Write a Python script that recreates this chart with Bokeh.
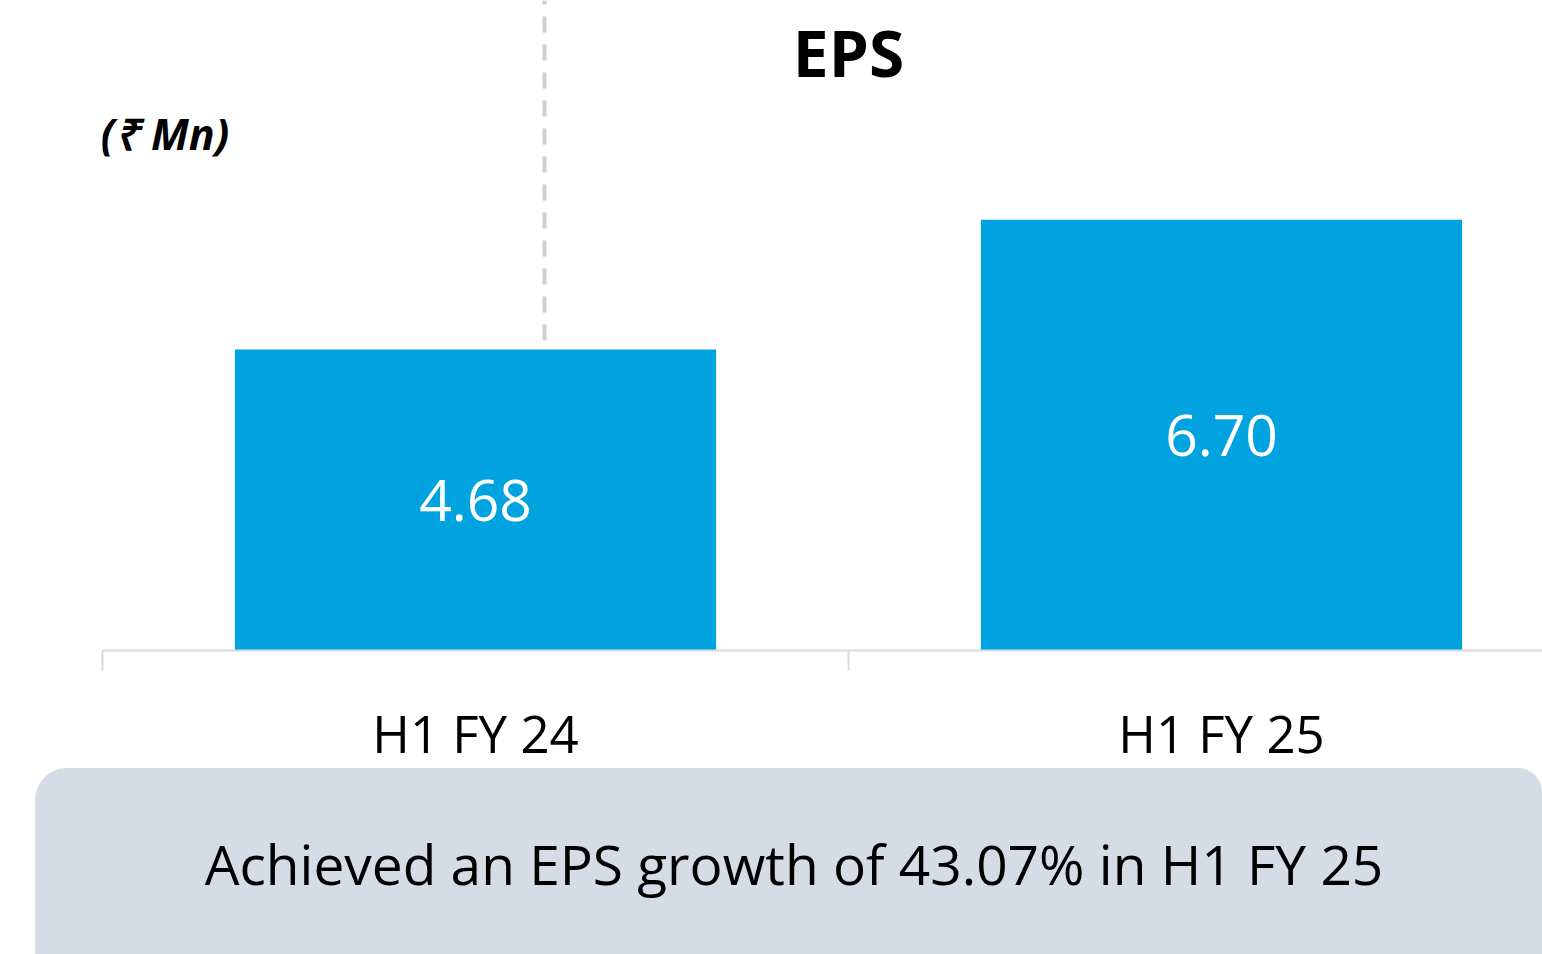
from bokeh.plotting import figure
from bokeh.models import Range1d, LinearAxis, FixedTicker, Label, Div, ColumnDataSource
from bokeh.layouts import column
from bokeh.embed import file_html
from bokeh.resources import INLINE

# ---- data ----
categories = ["H1 FY 24", "H1 FY 25"]
eps_values = [4.68, 6.70]
value_labels = ["4.68", "6.70"]
title_text = "EPS"
unit_text = "(₹ Mn)"
note_text = "Achieved an EPS growth of 43.07% in H1 FY 25"

FONT = "Open Sans"
BAR_COLOR = "#00a3e0"
GRID_GREY = "#d9d9d9"

centers = [i + 0.5 for i in range(len(categories))]
bounds = [float(i) for i in range(len(categories) + 1)]

src = ColumnDataSource(dict(
    x=centers,
    top=eps_values,
    mid=[v / 2 for v in eps_values],
    lab=value_labels,
))

FIG_H = 800
p = figure(width=1542, height=FIG_H, output_backend="svg", toolbar_location=None,
           x_range=Range1d(0, 1440 / 746), y_range=Range1d(0, 650 / 64.3),
           min_border_left=102, min_border_right=0, min_border_top=0,
           min_border_bottom=FIG_H - 650,
           x_axis_type=None, y_axis_type=None)
p.outline_line_color = None
p.xgrid.visible = False
p.ygrid.visible = False
p.background_fill_color = "white"
p.border_fill_color = "white"

# separator dashed line
p.segment(x0=[0.5925], y0=[4.82], x1=[0.5925], y1=[10.5],
          line_color="#d0d0d0", line_width=4, line_dash="16 12")

p.vbar(x="x", top="top", bottom=0, width=0.645, source=src,
       fill_color=BAR_COLOR, line_color=None)

p.text(x="x", y="mid", text="lab", source=src, text_color="white",
       text_align="center", text_baseline="middle",
       text_font={"value": FONT}, text_font_size="57px")

ax = LinearAxis(ticker=FixedTicker(ticks=centers, minor_ticks=bounds),
                major_label_overrides={c: n for c, n in zip(centers, categories)})
ax.axis_line_color = GRID_GREY
ax.axis_line_width = 2
ax.major_tick_out = 0
ax.major_tick_in = 0
ax.minor_tick_out = 20
ax.minor_tick_in = 0
ax.minor_tick_line_color = GRID_GREY
ax.minor_tick_line_width = 2
ax.major_label_text_font = FONT
ax.major_label_text_font_size = "51px"
ax.major_label_text_color = "black"
ax.major_label_standoff = 27
p.add_layout(ax, "below")

p.add_layout(Label(x=1.0, y=9.30, text=title_text, text_align="center", text_baseline="middle",
                   text_font=FONT, text_font_style="bold", text_font_size="64px",
                   text_color="black"))
p.add_layout(Label(x=-0.003, y=8.04, text=unit_text, text_align="left", text_baseline="middle",
                   text_font=FONT, text_font_style="bold italic", text_font_size="43px",
                   text_color="black"))

BOX_TOP = 768
note = Div(text=(
    f'<div style="width:1507px;height:{954 - BOX_TOP}px;background:#d6dce5;'
    f'border-radius:32px 24px 0 0;display:flex;align-items:center;justify-content:center;'
    f'box-sizing:border-box;padding-top:6px;padding-left:11px;'
    f'font-family:\'{FONT}\';font-size:55px;color:black;white-space:nowrap;">'
    f'{note_text}</div>'),
    width=1507, height=954 - BOX_TOP, margin=(BOX_TOP - FIG_H, 0, 0, 35))

layout = column(p, note, spacing=0)

open("out.html", "w").write(file_html(layout, INLINE))
